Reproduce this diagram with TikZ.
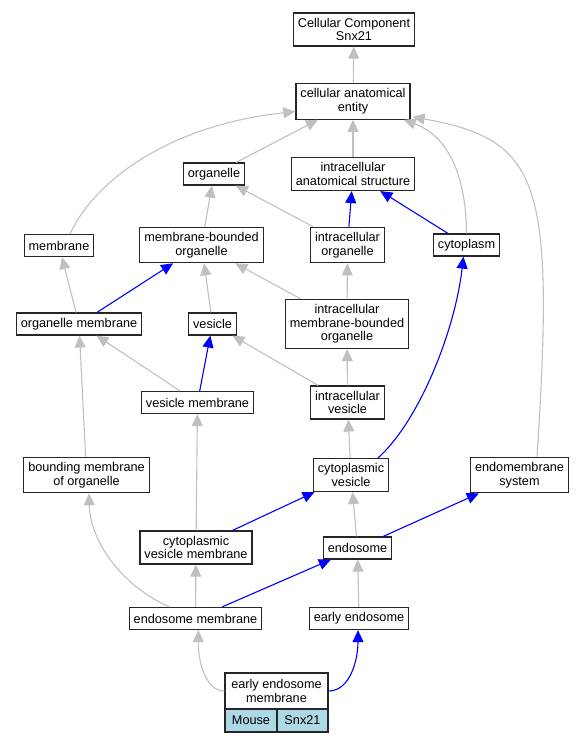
\documentclass[tikz,border=0pt]{standalone}
\usepackage{fontspec}
\setmainfont{Liberation Sans}
\definecolor{isagray}{RGB}{192,192,192}
\definecolor{partblue}{RGB}{0,0,255}
\definecolor{cellblue}{RGB}{173,216,230}
\usepackage{tikz}
\usetikzlibrary{
	arrows.meta,
	positioning
}
\tikzset{
  % arrow
	cstisa/.style   ={draw=isagray, line width=1.1pt, -{Triangle[length=12pt,width=11pt]}},
	cstpart/.style  ={draw=partblue, line width=1.1pt, -{Triangle[length=12pt,width=11pt]}},
  % node
	cstterm/.style  ={fill=white,draw=black!85,text=black,line width=1.2pt,align=center,
		font=\fontsize{12.7}{13.6}\selectfont,inner xsep=4.5pt,inner ysep=5pt,minimum height=22pt},
	cstcell/.style  ={cstterm,fill=cellblue,minimum height=23pt,inner xsep=0pt}
}

\begin{document}
\begin{tikzpicture}[x=1pt,y=-1pt]
	\useasboundingbox (0,0) rectangle (585,741);
	% terms
	\node[cstterm] (ccsnx)     at (354,29.5)  {Cellular Component\\Snx21};
	\node[cstterm] (cae)       at (353,101.5) {cellular anatomical\\entity};
	\node[cstterm] (organelle) at (214,174)   {organelle};
	\node[cstterm] (ias)       at (353,174)   {intracellular\\anatomical structure};
	\node[cstterm] (membrane)  at (59,245.5)  {membrane};
	\node[cstterm] (mbo)       at (201.5,245) {membrane-bounded\\organelle};
	\node[cstterm] (io)        at (347.5,245) {intracellular\\organelle};
	\node[cstterm] (cytoplasm) at (466.5,245) {cytoplasm};
	\node[cstterm] (om)        at (79,324)    {organelle membrane};
	\node[cstterm] (vesicle)   at (212.5,324) {vesicle};
	\node[cstterm] (imbo)      at (347,324)   {intracellular\\membrane-bounded\\organelle};
	\node[cstterm] (vm)        at (197.5,402.5) {vesicle membrane};
	\node[cstterm] (iv)        at (347.5,402.5) {intracellular\\vesicle};
	\node[cstterm] (bmo)       at (86.5,475)  {bounding membrane\\of organelle};
	\node[cstterm] (cv)        at (351,475)   {cytoplasmic\\vesicle};
	\node[cstterm] (ems)       at (519.5,475) {endomembrane\\system};
	\node[cstterm] (cvm)       at (196,547.5) {cytoplasmic\\vesicle membrane};
	\node[cstterm] (endosome)  at (357.5,548) {endosome};
	\node[cstterm] (em)        at (195.5,618.5) {endosome membrane};
	\node[cstterm] (ee)        at (359,618.5) {early endosome};
	\node[cstterm,minimum width=103pt,minimum height=36pt,inner xsep=0pt] (eem) at (276.5,691) {early endosome\\membrane};
	\node[cstcell,minimum width=52pt] (mouse) at (251,720.5)   {Mouse};
	\node[cstcell,minimum width=51pt] (snx)   at (302.5,720.5) {Snx21};
	% is_a
	\draw[cstisa] (cae) -- (ccsnx);
	\draw[cstisa] (organelle) -- (cae);
	\draw[cstisa] (ias) -- (cae);
	\draw[cstisa] ([xshift=11pt]membrane.north) .. controls (95,180) and (170,125) .. ([yshift=-10pt]cae.west);
	\draw[cstisa] (cytoplasm.north) .. controls (466,170) and (445,135) .. ([xshift=-7pt]cae.south east);
	\draw[cstisa] ([xshift=17.5pt]ems.north) .. controls (555,180) and (540,140) .. ([xshift=2pt,yshift=3pt]cae.south east);
	\draw[cstisa] (mbo) -- (organelle);
	\draw[cstisa] (io) -- (organelle);
	\draw[cstisa] (om) -- (membrane);
	\draw[cstisa] (vesicle) -- (mbo);
	\draw[cstisa] (imbo) -- (mbo);
	\draw[cstisa] (imbo) -- (io);
	\draw[cstisa] (vm) -- (om);
	\draw[cstisa] (iv) -- (vesicle);
	\draw[cstisa] (iv) -- (imbo);
	\draw[cstisa] (bmo) -- (om);
	\draw[cstisa] (cv) -- (iv);
	\draw[cstisa] (cvm) -- (vm);
	\draw[cstisa] (endosome) -- (cv);
	\draw[cstisa] ([xshift=-26pt]em.north) .. controls (120,585) and (90,540) .. ([xshift=2.5pt]bmo.south);
	\draw[cstisa] (em) -- (cvm);
	\draw[cstisa] (ee) -- (endosome);
	\draw[cstisa] (eem.west) .. controls (205,691) and (198,660) .. ([xshift=3pt]em.south);
	% part_of
	\draw[cstpart] (io) -- (ias);
	\draw[cstpart] (cytoplasm) -- (ias);
	\draw[cstpart] (om) -- (mbo);
	\draw[cstpart] (vm) -- (vesicle);
	\draw[cstpart] ([xshift=27pt]cv.north) .. controls (420,420) and (455,330) .. ([xshift=-3pt]cytoplasm.south);
	\draw[cstpart] (cvm) -- (cv);
	\draw[cstpart] (endosome) -- (ems);
	\draw[cstpart] (em) -- (endosome);
	\draw[cstpart] (eem.east) .. controls (350,691) and (358,660) .. ([xshift=-1pt]ee.south);
\end{tikzpicture}
\end{document}
